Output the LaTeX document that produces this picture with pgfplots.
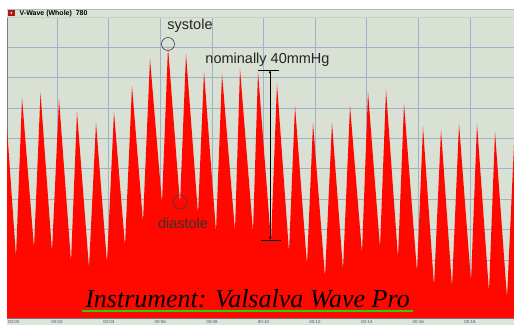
\documentclass[border=0pt]{standalone}
\usepackage{fontspec}
\setmainfont{Liberation Sans}
\newfontfamily\timesfont{Liberation Serif}
\usepackage{pgfplots}
\pgfplotsset{compat=1.18}
\usetikzlibrary{arrows.meta}
\definecolor{plotbg}{RGB}{217,224,212}
\definecolor{gridcol}{RGB}{160,178,200}
\definecolor{wavered}{RGB}{255,8,0}
\definecolor{titlebg}{RGB}{214,228,214}
\definecolor{stripbg}{RGB}{218,229,220}
\definecolor{iconred}{RGB}{176,20,20}
\definecolor{ulgreen}{RGB}{40,210,0}
\begin{document}
\begin{tikzpicture}[x=1pt,y=1pt]
\useasboundingbox (0,0) rectangle (514,325);
\fill[stripbg] (7,0) rectangle (514,7);
\begin{axis}[at={(7pt,7pt)}, anchor=south west, scale only axis,
  width=507pt, height=300.5pt,
  xmin=0.058, xmax=19.709, ymin=0.086, ymax=9.97,
  xtick={2,4,...,18},
  xticklabels={00:02,00:04,00:06,00:08,00:10,00:12,00:14,00:16,00:18},
  ytick={1,2,...,9},
  yticklabel style={opacity=0, text opacity=0},
  grid=major, major grid style={gridcol, line width=0.5pt},
  major tick length=0pt,
  axis line style={draw=gridcol!70!black, line width=0.4pt},
  axis background/.style={fill=plotbg},
  xticklabel style={font=\fontsize{4.5}{5}\selectfont, text=black!65, inner sep=0pt, yshift=-1.8pt},
]
\addplot[draw=none, fill=wavered] coordinates {
(0.058,6.336)
(0.407,2.092)
(0.640,7.322)
(1.105,2.388)
(1.357,7.487)
(1.802,2.257)
(2.074,7.289)
(2.539,1.928)
(2.771,6.862)
(3.236,1.730)
(3.508,6.500)
(3.934,1.895)
(4.205,6.862)
(4.632,2.454)
(4.903,7.717)
(5.329,3.243)
(5.601,8.605)
(6.066,3.868)
(6.298,9.000)
(6.764,3.836)
(6.996,8.770)
(7.461,3.507)
(7.694,8.178)
(8.159,2.914)
(8.391,8.112)
(8.895,2.947)
(9.089,8.276)
(9.593,2.914)
(9.787,8.178)
(10.291,2.586)
(10.523,7.783)
(10.988,2.257)
(11.221,7.059)
(11.686,1.829)
(11.919,6.500)
(12.384,1.434)
(12.655,6.500)
(13.081,1.664)
(13.353,7.059)
(13.818,2.224)
(14.050,7.520)
(14.516,2.388)
(14.748,7.586)
(15.213,2.059)
(15.446,7.125)
(15.950,1.599)
(16.182,6.368)
(16.609,1.138)
(16.880,6.270)
(17.306,1.105)
(17.578,6.467)
(18.043,1.270)
(18.275,6.467)
(18.740,0.941)
(18.973,6.204)
(19.438,0.743)
(19.709,5.776)
} \closedcycle;
% annotations
\addplot[only marks, mark=o, mark size=6.5pt, mark options={draw=black!75, line width=0.6pt}] coordinates {(6.298,9.099)};
\addplot[only marks, mark=o, mark size=7pt, mark options={draw=black!75, line width=0.6pt}] coordinates {(6.764,3.901)};
\addplot[black, line width=0.6pt, {Latex[length=3pt,width=2.5pt]}-{Latex[length=3pt,width=2.5pt]}] coordinates {(10.252,8.243) (10.252,2.651)};
\addplot[black, line width=0.8pt] coordinates {(9.787,8.243) (10.601,8.243)};
\addplot[black, line width=0.8pt] coordinates {(9.903,2.651) (10.678,2.651)};
\node[font=\fontsize{14.5}{16}\selectfont, text=black!85, inner sep=0pt] at (axis cs:7.151,9.691) {systole};
\node[font=\fontsize{14.5}{16}\selectfont, text=black!85, inner sep=0pt] at (axis cs:10.155,8.572) {nominally 40mmHg};
\node[font=\fontsize{14.5}{16}\selectfont, text=black!80, inner sep=0pt] at (axis cs:6.880,3.211) {diastole};
\end{axis}
% x label at origin
\node[anchor=west, inner sep=0pt, font=\fontsize{4.5}{5}\selectfont, text=black!65] at (8,3.3) {00:00};
% title bar
\fill[titlebg] (7,307.5) rectangle (514,316);
\draw[gray!55, line width=0.4pt] (7,316) -- (514,316);
\draw[gray!40, line width=0.3pt] (7,307.5) -- (514,307.5);
\fill[iconred] (8,309) rectangle (14.5,315.5);
\fill[white] (11.25,312.25) circle (1pt);
\node[anchor=west, inner sep=0pt, font=\bfseries\fontsize{7}{8}\selectfont] at (19.5,311.7) {V-Wave (Whole)\ \ 780};
% overlay caption
\draw[ulgreen, line width=2pt] (82,14) -- (413,14);
\node[anchor=base, inner sep=0pt, font=\timesfont\itshape\fontsize{26}{30}\selectfont] at (247.5,18) {Instrument: Valsalva Wave Pro};
\end{tikzpicture}
\end{document}
